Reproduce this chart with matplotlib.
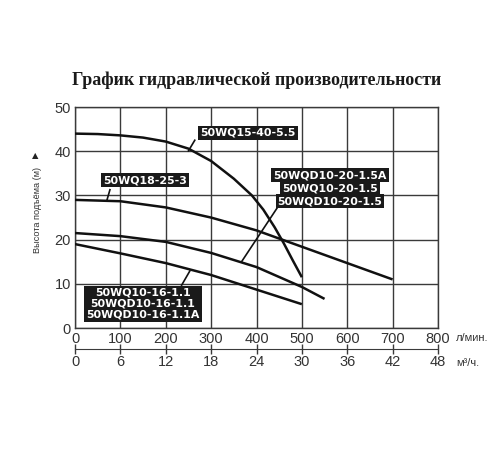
import matplotlib.pyplot as plt
import numpy as np

# Pump curves: flow (l/min) -> head (m)
q_15_40 = [0, 50, 100, 150, 200, 250, 300, 350, 390, 415, 440, 460, 480, 500]
h_15_40 = [44, 43.9, 43.6, 43.1, 42.2, 40.6, 37.8, 33.8, 30.0, 26.8, 22.8, 19.2, 15.3, 11.5]

q_18_25 = [0, 100, 200, 300, 400, 500, 600, 700]
h_18_25 = [29, 28.7, 27.3, 25.0, 22.1, 18.4, 14.7, 11.0]

q_10_20 = [0, 100, 200, 300, 400, 500, 550]
h_10_20 = [21.5, 20.8, 19.5, 17.0, 13.8, 9.3, 6.6]

q_10_16 = [0, 100, 200, 300, 400, 500]
h_10_16 = [19, 16.9, 14.7, 12.0, 8.7, 5.4]

label_15_40 = ["50WQ15-40-5.5"]
label_18_25 = ["50WQ18-25-3"]
label_10_20 = ["50WQD10-20-1.5A", "50WQ10-20-1.5", "50WQD10-20-1.5"]
label_10_16 = ["50WQ10-16-1.1", "50WQD10-16-1.1", "50WQD10-16-1.1A"]

x_ticks = np.arange(0, 900, 100)
y_ticks = np.arange(0, 60, 10)
m3h_ticks = np.arange(0, 54, 6)

plt.rcParams['font.family'] = ['Liberation Sans', 'DejaVu Sans']

fig = plt.figure(figsize=(5, 4.5), dpi=100)
ax = fig.add_axes([0.15, 0.271, 0.726, 0.491])

grid_c = '#3a3a3a'
for q, h in [(q_15_40, h_15_40), (q_18_25, h_18_25),
             (q_10_20, h_10_20), (q_10_16, h_10_16)]:
    ax.plot(q, h, color='#111111', lw=1.8, solid_capstyle='butt', zorder=3)

ax.set_xlim(0, 800)
ax.set_ylim(0, 50)
ax.set_xticks(x_ticks)
ax.set_yticks(y_ticks)
ax.grid(True, color=grid_c, lw=1.0)
ax.set_axisbelow(True)
for s in ax.spines.values():
    s.set_color(grid_c)
    s.set_linewidth(1.0)
ax.tick_params(length=0, labelsize=10.5, colors='#333333', pad=3)

# second scale in m3/h
sec = ax.secondary_xaxis(-0.095, functions=(lambda x: x * 0.06, lambda x: x / 0.06))
sec.set_xticks(m3h_ticks)
sec.spines['bottom'].set_color(grid_c)
sec.tick_params(direction='inout', length=7, width=1, color=grid_c,
                labelsize=10.5, labelcolor='#333333', pad=1)

ax.text(1.05, -0.045, "л/мин.", transform=ax.transAxes, fontsize=8,
        color='#333333', va='center', ha='left')
ax.text(1.05, -0.16, "м³/ч.", transform=ax.transAxes, fontsize=8,
        color='#333333', va='center', ha='left')

# y label with arrow
fig.text(0.074, 0.533, "Высота подъёма (м)", rotation=90, fontsize=6.6,
         color='#333333', ha='center', va='center')
fig.text(0.071, 0.655, "▲", fontsize=6, color='#222222', ha='center', va='center',
         family='DejaVu Sans')

fig.text(0.514, 0.822, "График гидравлической производительности",
         fontsize=12.9, fontweight='bold', family='Liberation Serif',
         ha='center', va='center', color='#1a1a1a')

box = dict(boxstyle='square,pad=0.18', fc='#1a1a1a', ec='none')
tkw = dict(color='white', fontweight='bold', fontsize=7.9, family='DejaVu Sans',
           ha='center', va='center', zorder=5)

leader = dict(color='#111111', lw=1.2, zorder=4)

ax.text(381, 44.2, label_15_40[0], bbox=box, **tkw)
ax.plot([264, 250], [42.5, 40.1], **leader)

ax.text(154, 33.4, label_18_25[0], bbox=box, **tkw)
ax.plot([77, 70], [31.3, 28.8], **leader)

for i, t in enumerate(label_10_20):
    ax.text(562, 34.6 - i * 2.95, t, bbox=box, **tkw)
ax.plot([445, 367], [27.1, 15.0], **leader)

ax.text(150, 5.5, "\n".join(label_10_16), linespacing=1.1,
        bbox=dict(boxstyle='square,pad=0.2', fc='#1a1a1a', ec='none'), **tkw)
ax.plot([235, 253], [9.7, 12.9], **leader)

fig.savefig("out.png", dpi=100)
